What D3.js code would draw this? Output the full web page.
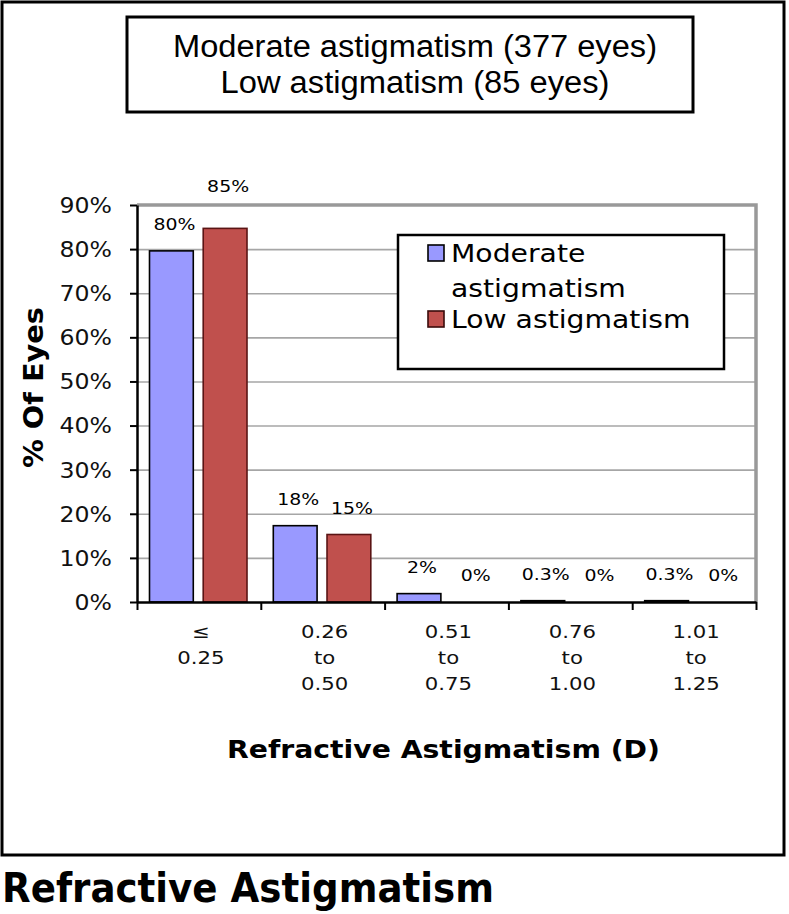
<!DOCTYPE html>
<html>
<head>
<meta charset="utf-8">
<script src="https://cdn.jsdelivr.net/npm/d3@7"></script>
<style>
  html, body { margin: 0; padding: 0; background: #fff; }
  svg { display: block; }
</style>
</head>
<body>
<svg id="chart" width="789" height="914"></svg>
<script>
// ---- Data ----
const titleLines = ["Moderate astigmatism (377 eyes)", "Low astigmatism (85 eyes)"];
const categories = ["≤\n0.25", "0.26\nto\n0.50", "0.51\nto\n0.75", "0.76\nto\n1.00", "1.01\nto\n1.25"];
const seriesNames = ["Moderate astigmatism", "Low astigmatism"];
const moderateValues = [79.6, 17.3, 1.9, 0.3, 0.3];
const lowValues = [84.7, 15.3, 0, 0, 0];
const moderateLabels = ["80%", "18%", "2%", "0.3%", "0.3%"];
const lowLabels = ["85%", "15%", "0%", "0%", "0%"];
const yTicks = [0, 10, 20, 30, 40, 50, 60, 70, 80, 90];
const yTitle = "% Of Eyes";
const xTitle = "Refractive Astigmatism (D)";
const pageTitle = "Refractive Astigmatism";

// ---- Styles ----
const colors = ["#9999ff", "#c0504d"];
const strokes = ["#000000", "#5a1414"];
const chartFont = "'DejaVu Sans', Verdana, sans-serif";
const titleFont = "'Liberation Sans', Arial, sans-serif";

const svg = d3.select("#chart");

function stretch(sel, k) {
  sel.each(function () {
    const L = this.getComputedTextLength();
    this.setAttribute("textLength", L * k);
    this.setAttribute("lengthAdjust", "spacingAndGlyphs");
  });
  return sel;
}
function fitTo(sel, w) {
  sel.attr("textLength", w).attr("lengthAdjust", "spacingAndGlyphs");
  return sel;
}

// Outer frame
svg.append("rect").attr("x", 2).attr("y", 2).attr("width", 782).attr("height", 853)
  .attr("fill", "#fff").attr("stroke", "#000").attr("stroke-width", 3);

// Title box
svg.append("rect").attr("x", 127).attr("y", 17).attr("width", 566).attr("height", 95)
  .attr("fill", "#fff").attr("stroke", "#000").attr("stroke-width", 3);
const titleBase = [57, 93];
const titleWidths = [484, 389];
titleLines.forEach((t, i) => {
  fitTo(svg.append("text").attr("x", 415).attr("y", titleBase[i])
    .attr("text-anchor", "middle").attr("font-family", titleFont).attr("font-size", 31)
    .attr("fill", "#000").text(t), titleWidths[i]);
});

// ---- Plot ----
const plot = { left: 137, right: 756, top: 205, bottom: 602 };
const y = d3.scaleLinear().domain([0, 90]).range([plot.bottom, plot.top]);
const x = d3.scaleBand().domain(categories).range([plot.left, plot.right]).paddingInner(0).paddingOuter(0);
const xInner = d3.scaleBand().domain(seriesNames).range([12.5, 110]).paddingInner(0.185).paddingOuter(0);
const xEdges = d3.scaleLinear().domain([0, categories.length]).range([plot.left, plot.right]);

// Gridlines
const grid = svg.append("g").attr("transform", `translate(${plot.left},0)`)
  .call(d3.axisLeft(y).tickValues(yTicks.slice(1, -1)).tickSize(-(plot.right - plot.left)).tickFormat(""));
grid.select(".domain").remove();
grid.selectAll(".tick line").attr("stroke", "#a6a6a6").attr("stroke-width", 1.6);

// Top and right plot border (gray)
svg.append("path")
  .attr("d", `M${plot.left},${plot.top}H${plot.right}V${plot.bottom}`)
  .attr("fill", "none").attr("stroke", "#999").attr("stroke-width", 3.5);

// Bars
const rows = categories.map((c, i) => ({
  cat: c,
  vals: [
    { s: seriesNames[0], v: moderateValues[i], lab: moderateLabels[i], k: 0 },
    { s: seriesNames[1], v: lowValues[i], lab: lowLabels[i], k: 1 }
  ]
}));
const groups = svg.append("g").selectAll("g").data(rows).join("g")
  .attr("transform", d => `translate(${x(d.cat)},0)`);
groups.selectAll("rect").data(d => d.vals.filter(e => e.v > 0)).join("rect")
  .attr("x", d => xInner(d.s))
  .attr("y", d => y(d.v))
  .attr("width", xInner.bandwidth())
  .attr("height", d => y(0) - y(d.v))
  .attr("fill", d => colors[d.k])
  .attr("stroke", d => strokes[d.k])
  .attr("stroke-width", 1.6);

// Data labels
groups.selectAll("text").data(d => d.vals).join("text")
  .attr("x", d => xInner(d.s) + xInner.bandwidth() / 2 + 3)
  .attr("y", d => {
    const b = y(d.v) - 21;
    return b < plot.top + 15 ? plot.top - 13 : b;
  })
  .attr("text-anchor", "middle")
  .attr("font-family", chartFont).attr("font-size", 16).attr("fill", "#000")
  .text(d => d.lab)
  .call(stretch, 1.18);

// Y axis
const yAxis = svg.append("g").attr("transform", `translate(${plot.left},0)`)
  .call(d3.axisLeft(y).tickValues(yTicks).tickFormat(d => d + "%").tickSize(7).tickPadding(18).tickSizeOuter(0));
yAxis.select(".domain").attr("stroke", "#000").attr("stroke-width", 2.5);
yAxis.selectAll(".tick line").attr("stroke", "#000").attr("stroke-width", 2);
yAxis.selectAll(".tick text").attr("font-family", chartFont).attr("font-size", 20.5).attr("fill", "#111")
  .attr("dy", "0.36em")
  .call(stretch, 1.15);

// X axis (ticks at category boundaries)
const xAxis = svg.append("g").attr("transform", `translate(0,${plot.bottom})`)
  .call(d3.axisBottom(xEdges).ticks(categories.length).tickFormat("").tickSize(8).tickSizeOuter(0));
xAxis.select(".domain").attr("stroke", "#000").attr("stroke-width", 2.5);
xAxis.selectAll(".tick line").attr("stroke", "#000").attr("stroke-width", 2);

// Category labels
const lineBase = [638, 664, 690];
categories.forEach(c => {
  const lines = c.split("\n");
  lines.forEach((ln, j) => {
    svg.append("text")
      .attr("x", x(c) + x.bandwidth() / 2 + 2)
      .attr("y", lineBase[j])
      .attr("text-anchor", "middle")
      .attr("font-family", chartFont).attr("font-size", 18).attr("fill", "#111")
      .text(ln)
      .call(stretch, 1.18);
  });
});

// Axis titles
fitTo(svg.append("text").attr("x", 443.5).attr("y", 758).attr("text-anchor", "middle")
  .attr("font-family", chartFont).attr("font-weight", "bold").attr("font-size", 25).attr("fill", "#000")
  .text(xTitle), 433);
fitTo(svg.append("text").attr("transform", "translate(43,387.5) rotate(-90)").attr("text-anchor", "middle")
  .attr("font-family", chartFont).attr("font-weight", "bold").attr("font-size", 27).attr("fill", "#000")
  .text(yTitle), 161);

// Legend
const legend = svg.append("g");
legend.append("rect").attr("x", 398).attr("y", 235).attr("width", 326).attr("height", 134)
  .attr("fill", "#fff").attr("stroke", "#000").attr("stroke-width", 2.5);
const legendLines = [["Moderate", "astigmatism"], ["Low astigmatism"]];
let ly = 262;
seriesNames.forEach((s, i) => {
  const words = s.split(" ");
  // wrap words into lines that fit the legend width
  const lines = [];
  let cur = "";
  const probe = svg.append("text").attr("font-family", chartFont).attr("font-size", 25);
  words.forEach(w => {
    const test = cur ? cur + " " + w : w;
    probe.text(test);
    if (probe.node().getComputedTextLength() * 1.13 > 255 && cur) { lines.push(cur); cur = w; }
    else cur = test;
  });
  lines.push(cur);
  probe.remove();
  legend.append("rect").attr("x", 428).attr("y", ly - 17).attr("width", 16).attr("height", 16)
    .attr("fill", colors[i]).attr("stroke", strokes[i] === "#000000" ? "#000" : "#3a0a0a").attr("stroke-width", 1.6);
  lines.forEach((ln, j) => {
    legend.append("text").attr("x", 451).attr("y", ly + j * 35)
      .attr("font-family", chartFont).attr("font-size", 25).attr("fill", "#000")
      .text(ln).call(stretch, 1.13);
  });
  ly += (lines.length - 1) * 35 + 31;
});

// Page title below frame
fitTo(svg.append("text").attr("x", 2).attr("y", 902)
  .attr("font-family", chartFont).attr("font-weight", "bold").attr("font-size", 40).attr("fill", "#000")
  .text(pageTitle), 492);
</script>
</body>
</html>
